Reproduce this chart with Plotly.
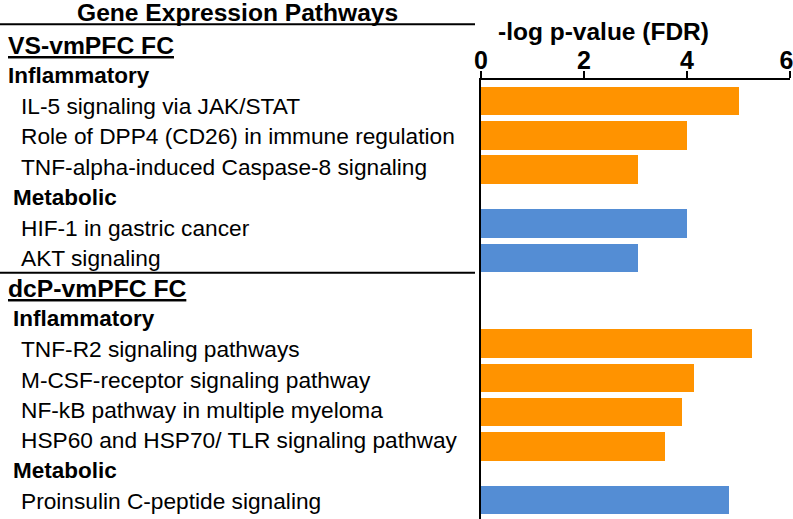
import plotly.graph_objects as go

# ---------------- data ----------------
sections = ["VS-vmPFC FC", "dcP-vmPFC FC"]
pathways = [
    "IL-5 signaling via JAK/STAT",
    "Role of DPP4 (CD26) in immune regulation",
    "TNF-alpha-induced Caspase-8 signaling",
    "HIF-1 in gastric cancer",
    "AKT signaling",
    "TNF-R2 signaling pathways",
    "M-CSF-receptor signaling pathway",
    "NF-kB pathway in multiple myeloma",
    "HSP60 and HSP70/ TLR signaling pathway",
    "Proinsulin C-peptide signaling",
]
pathway_section = ["VS-vmPFC FC"] * 5 + ["dcP-vmPFC FC"] * 5
pathway_group = (["Inflammatory"] * 3 + ["Metabolic"] * 2 +
                 ["Inflammatory"] * 4 + ["Metabolic"] * 1)
neg_log_p = [5.0, 4.0, 3.05, 4.0, 3.05, 5.27, 4.14, 3.9, 3.57, 4.82]
x_ticks = [0, 2, 4, 6]
title_left = "Gene Expression Pathways"
title_axis = "-log p-value (FDR)"

# ---------------- styling / layout ----------------
W, H = 793, 519
ML, MR, MT, MB = 481, 3, 80, 0
FONT = "Liberation Sans, Arial, sans-serif"
group_colors = {"Inflammatory": "#FF9300", "Metabolic": "#548DD4"}

# bar positions: unit step within a group, larger gaps at group / section changes
STEP, GROUP_GAP, SECTION_GAP = 1.0, 1.57, 2.5
ypos = []
for i in range(len(pathways)):
    if i == 0:
        ypos.append(0.0)
    elif pathway_section[i] != pathway_section[i - 1]:
        ypos.append(ypos[-1] + SECTION_GAP)
    elif pathway_group[i] != pathway_group[i - 1]:
        ypos.append(ypos[-1] + GROUP_GAP)
    else:
        ypos.append(ypos[-1] + STEP)

PX_PER_ROW = 34.3
FIRST_BAR_PX = 101.0
y_top = -(FIRST_BAR_PX - MT) / PX_PER_ROW
y_bot = (H - MB - FIRST_BAR_PX) / PX_PER_ROW

plot_w = W - ML - MR
plot_h = H - MT - MB


def px(x, y):
    return (x - ML) / plot_w, (H - MB - y) / plot_h


fig = go.Figure()
fig.add_trace(go.Bar(
    x=neg_log_p, y=ypos, orientation="h", width=0.83,
    marker=dict(color=[group_colors[g] for g in pathway_group], line=dict(width=0)),
    hovertext=pathways, showlegend=False,
))

annotations = []


def add_text(text, x, y, size, bold=False, anchor="left"):
    xp, yp = px(x, y)
    annotations.append(dict(
        text=f"<b>{text}</b>" if bold else text,
        x=xp, y=yp, xref="paper", yref="paper",
        xanchor=anchor, yanchor="middle", showarrow=False, borderpad=0,
        font=dict(family=FONT, size=size, color="black"),
    ))


# left-hand text table (rows evenly spaced)
ROW0, ROW_STEP = 45.2, 30.4
row = 0
prev_sec, prev_grp = None, None
for name, sec, grp in zip(pathways, pathway_section, pathway_group):
    if sec != prev_sec:
        add_text(f"<u>{sec}</u>", 7, ROW0 + ROW_STEP * row, 24.7, bold=True)
        row += 1
        prev_grp = None
    if grp != prev_grp:
        add_text(grp, 12 if row > 1 else 7, ROW0 + ROW_STEP * row, 22.5, bold=True)
        row += 1
    add_text(name, 20, ROW0 + ROW_STEP * row, 22.7)
    row += 1
    prev_sec, prev_grp = sec, grp

add_text(title_left, 237.5, 12.5, 24.6, bold=True, anchor="center")
add_text(title_axis, 603.5, 31, 24.5, bold=True, anchor="center")

shapes = []
for ly in (24.3, 272.7):
    x0, y0 = px(0, ly)
    x1, _ = px(475, ly)
    shapes.append(dict(type="line", xref="paper", yref="paper",
                       x0=x0, x1=x1, y0=y0, y1=y0,
                       line=dict(color="black", width=2)))

# last tick label is nudged left (trailing no-break space) so it stays on the page
tick_text = [str(t) for t in x_ticks]
tick_text[-1] = tick_text[-1] + "\u00a0"

fig.update_layout(
    width=W, height=H,
    margin=dict(l=ML, r=MR, t=MT, b=MB, pad=0, autoexpand=False),
    paper_bgcolor="white", plot_bgcolor="white",
    annotations=annotations, shapes=shapes,
    bargap=0,
    xaxis=dict(
        side="top", range=[0, 6], tickvals=x_ticks, ticktext=tick_text,
        ticks="outside", ticklen=7, tickwidth=1.5, tickcolor="black",
        showline=True, linewidth=2, linecolor="black",
        showgrid=False, zeroline=False, automargin=False,
        ticklabeloverflow="allow", ticklabelstandoff=-8,
        tickfont=dict(family=FONT, size=25, color="black", weight="bold"),
    ),
    yaxis=dict(
        range=[y_bot, y_top], showticklabels=False, ticks="",
        showline=True, linewidth=2, linecolor="black",
        showgrid=False, zeroline=False, automargin=False,
    ),
)

fig.write_html(
    "out.html",
    config={"displayModeBar": False},
    post_script="document.body.style.margin='0';document.body.style.overflow='hidden';",
)
